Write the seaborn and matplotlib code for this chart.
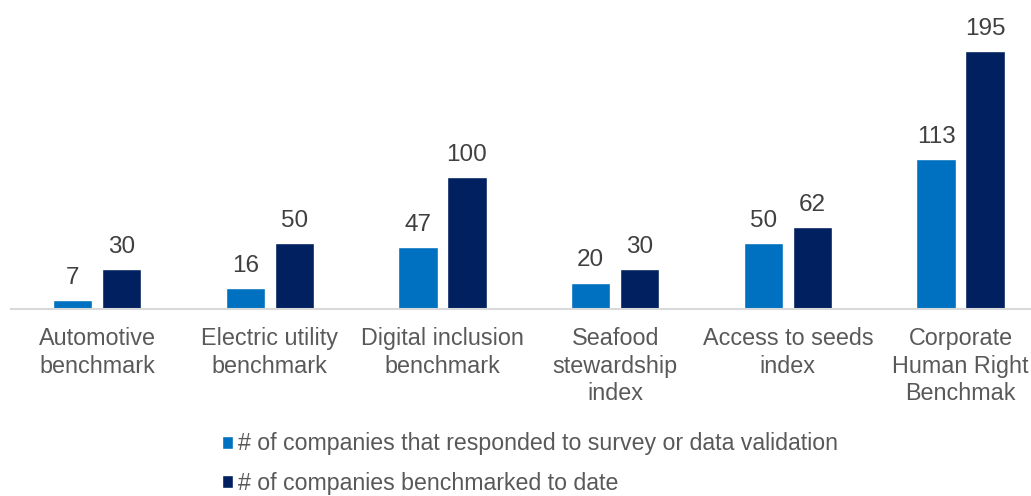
import matplotlib
matplotlib.use("Agg")
import matplotlib.pyplot as plt
import seaborn as sns
import pandas as pd
from matplotlib.patches import Patch

categories = ["Automotive\nbenchmark", "Electric utility\nbenchmark", "Digital inclusion\nbenchmark",
              "Seafood\nstewardship\nindex", "Access to seeds\nindex", "Corporate\nHuman Right\nBenchmak"]
series_names = ["# of companies that responded to survey or data validation",
                "# of companies benchmarked to date"]
responded = [7, 16, 47, 20, 50, 113]
benchmarked = [30, 50, 100, 30, 62, 195]
colors = ["#0070C0", "#002060"]

df = pd.DataFrame({
    "category": categories * 2,
    "series": [series_names[0]] * len(categories) + [series_names[1]] * len(categories),
    "value": responded + benchmarked,
})

sns.set_theme(style="white")
plt.rcParams["font.family"] = ["Liberation Sans", "DejaVu Sans"]

fig = plt.figure(figsize=(10.31, 4.96), dpi=100)
ax = fig.add_axes([0.0104, 0.377, 1.005, 0.623])

sns.barplot(data=df, x="category", y="value", hue="series", palette=colors,
            width=0.568, gap=0.2, ax=ax, legend=False, saturation=1, errorbar=None)

ax.set_ylim(0, 233.5)
ax.set_xlim(-0.5, 5.5)
for c in ax.containers:
    ax.bar_label(c, padding=8, fontsize=17.5, color="#404040")

ax.set_xlabel("")
ax.set_ylabel("")
ax.set_yticks([])
ax.tick_params(axis="x", length=0, pad=13, labelsize=16.8, labelcolor="#595959")
for lbl in ax.get_xticklabels():
    lbl.set_linespacing(1.26)
for s in ["top", "left", "right"]:
    ax.spines[s].set_visible(False)
ax.spines["bottom"].set_color("#D9D9D9")
ax.spines["bottom"].set_linewidth(1.5)

handles = [Patch(facecolor=colors[0]), Patch(facecolor=colors[1])]
leg = fig.legend(handles, series_names, loc="upper left", bbox_to_anchor=(0.206, 0.147),
                 frameon=False, ncol=1, fontsize=16.7, handlelength=0.5, handleheight=0.5,
                 handletextpad=0.2, labelspacing=0.72, borderaxespad=0)
for t in leg.get_texts():
    t.set_color("#595959")

fig.savefig("out.png", dpi=100)
